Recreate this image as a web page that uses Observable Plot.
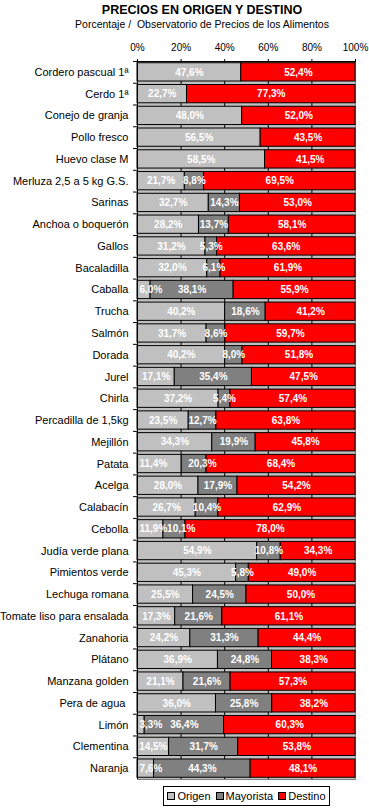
<!DOCTYPE html>
<html>
<head>
<meta charset="utf-8">
<script src="https://cdn.jsdelivr.net/npm/d3@7"></script>
<script src="https://cdn.jsdelivr.net/npm/@observablehq/plot@0.6"></script>
<style>
  html, body { margin: 0; padding: 0; background: white; }
  #wrap { position: relative; width: 369px; height: 808px; font-family: "Liberation Sans", Arial, sans-serif; }
  #title { position: absolute; left: 0; top: 2px; width: 404px; text-align: center; font-weight: bold; font-size: 12.5px; line-height: 16px; }
  #subtitle { position: absolute; left: 0; top: 17px; width: 404px; text-align: center; font-size: 10.5px; line-height: 14px; }
  #chart { position: absolute; left: 0; top: 32px; }
  #legend { position: absolute; left: 163px; top: 786px; width: 165px; height: 18px; border: 1px solid black; background: white;
            display: flex; align-items: center; justify-content: center; gap: 5px; font-size: 11px; }
  .item { display: flex; align-items: center; gap: 2px; }
  .sw { display: inline-block; width: 6px; height: 6px; border: 1px solid black; }
</style>
</head>
<body>
<div id="wrap">
  <div id="title">PRECIOS EN ORIGEN Y DESTINO</div>
  <div id="subtitle">Porcentaje /&nbsp; Observatorio de Precios de los Alimentos</div>
  <div id="chart"></div>
  <div id="legend"></div>
</div>
<script>
const categories = [
  "Cordero pascual 1ª", "Cerdo 1ª", "Conejo de granja", "Pollo fresco", "Huevo clase M",
  "Merluza 2,5 a 5 kg G.S.", "Sarinas", "Anchoa o boquerón", "Gallos", "Bacaladilla",
  "Caballa", "Trucha", "Salmón", "Dorada", "Jurel", "Chirla", "Percadilla de 1,5kg",
  "Mejillón", "Patata", "Acelga", "Calabacín", "Cebolla", "Judía verde plana",
  "Pimientos verde", "Lechuga romana", "Tomate liso para ensalada", "Zanahoria",
  "Plátano", "Manzana golden", "Pera de agua ", "Limón", "Clementina", "Naranja"
];
// bar widths as drawn in the picture
const origen = [47.6, 22.7, 48.0, 56.5, 58.5, 21.7, 32.7, 28.2, 31.2, 32.0, 6.0, 40.2, 31.7, 40.2, 17.1, 37.2, 23.5,
                34.3, 20.3, 28.0, 26.7, 11.9, 54.9, 45.3, 25.5, 17.3, 24.2, 36.9, 21.1, 36.0, 3.3, 14.5, 7.6];
const mayorista = [0, 0, 0, 0, 0, 8.8, 14.3, 13.7, 5.3, 6.1, 38.1, 18.6, 8.6, 8.0, 35.4, 5.4, 12.7,
                   19.9, 11.4, 17.9, 10.4, 10.1, 10.8, 5.8, 24.5, 21.6, 31.3, 24.8, 21.6, 25.8, 36.4, 31.7, 44.3];
const destino = [52.4, 77.3, 52.0, 43.5, 41.5, 69.5, 53.0, 58.1, 63.6, 61.9, 55.9, 41.2, 59.7, 51.8, 47.5, 57.4, 63.8,
                 45.8, 68.4, 54.2, 62.9, 78.0, 34.3, 49.0, 50.0, 61.1, 44.4, 38.3, 57.3, 38.2, 60.3, 53.8, 48.1];
// value labels as printed in the picture
const origenLabel = [47.6, 22.7, 48.0, 56.5, 58.5, 21.7, 32.7, 28.2, 31.2, 32.0, 6.0, 40.2, 31.7, 40.2, 17.1, 37.2, 23.5,
                     34.3, 11.4, 28.0, 26.7, 11.9, 54.9, 45.3, 25.5, 17.3, 24.2, 36.9, 21.1, 36.0, 3.3, 14.5, 7.6];
const mayoristaLabel = [0, 0, 0, 0, 0, 8.8, 14.3, 13.7, 5.3, 6.1, 38.1, 18.6, 8.6, 8.0, 35.4, 5.4, 12.7,
                        19.9, 20.3, 17.9, 10.4, 10.1, 10.8, 5.8, 24.5, 21.6, 31.3, 24.8, 21.6, 25.8, 36.4, 31.7, 44.3];
const destinoLabel = destino;
const seriesNames = ["Origen", "Mayorista", "Destino"];
const seriesColors = ["#c0c0c0", "#808080", "#ff0000"];
const xTicks = [0, 0.2, 0.4, 0.6, 0.8, 1];

const seriesValues = [origen, mayorista, destino];
const seriesLabels = [origenLabel, mayoristaLabel, destinoLabel];
const data = categories.flatMap((name, i) =>
  seriesNames.map((s, j) => ({name, series: s, value: seriesValues[j][i], label: seriesLabels[j][i],
                              edgeRow: origenLabel[i] < 12}))
).filter(d => d.value > 0);

const fmt = v => v.toFixed(1).replace(".", ",") + "%";
// first segment too narrow: label starts at the axis
const isEdge = d => d.series === "Origen" && d.edgeRow;
// narrow middle segment after a narrow first one: label pushed right
const isShift = d => d.series === "Mayorista" && d.edgeRow && d.value < 12;

const labelStyle = {fill: "white", fontWeight: "bold", fontSize: 10};
const common = {x: "value", y: "name", z: "series", offset: "normalize", order: seriesNames};

const chart = Plot.plot({
  width: 369,
  height: 752,
  marginTop: 29,
  marginBottom: 5,
  marginLeft: 137,
  marginRight: 14,
  style: {fontFamily: "'Liberation Sans', Arial, sans-serif", background: "transparent", color: "black"},
  x: {domain: [0, 1], axis: null},
  y: {domain: categories, paddingInner: 0.16, paddingOuter: 0.08, round: false, axis: null},
  color: {domain: seriesNames, range: seriesColors},
  marks: [
    Plot.frame({fill: "#c0c0c0", stroke: "#808080"}),
    Plot.ruleX(xTicks.slice(1, -1), {stroke: "black"}),
    Plot.barX(data, Plot.stackX({...common, fill: "series", stroke: "black", strokeWidth: 1})),
    Plot.text(data, Plot.stackX({...common, text: d => (isEdge(d) || isShift(d)) ? "" : fmt(d.label), ...labelStyle})),
    Plot.text(data, Plot.stackX1({...common, text: d => isEdge(d) ? fmt(d.label) : "", textAnchor: "start", dx: 2, ...labelStyle})),
    Plot.text(data, Plot.stackX2({...common, text: d => isShift(d) ? fmt(d.label) : "", textAnchor: "end", dx: 10, ...labelStyle})),
    Plot.ruleX([0], {stroke: "black"}),
    Plot.frame({anchor: "top", stroke: "black"}),
    Plot.axisX({anchor: "top", ticks: xTicks, tickFormat: d => Math.round(d * 100) + "%", tickSize: 3, tickPadding: 8, fontSize: 10, label: null}),
    Plot.axisY({tickSize: 0, tickPadding: 9, fontSize: 11, label: null}),
    Plot.axisY({text: null, tickSize: 4, dy: -10.88, label: null})
  ]
});
document.getElementById("chart").appendChild(chart);

const legend = document.getElementById("legend");
seriesNames.forEach((s, i) => {
  const item = document.createElement("span");
  item.className = "item";
  const sw = document.createElement("span");
  sw.className = "sw";
  sw.style.background = seriesColors[i];
  item.appendChild(sw);
  item.appendChild(document.createTextNode(s));
  legend.appendChild(item);
});
</script>
</body>
</html>
